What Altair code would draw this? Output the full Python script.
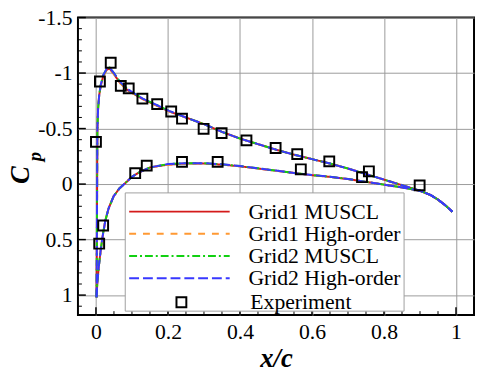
import altair as alt
import pandas as pd

series_names = ["Grid1 MUSCL", "Grid1 High-order", "Grid2 MUSCL", "Grid2 High-order"]
series_colors = ["#d41a1a", "#ff9933", "#11d011", "#3838ff"]
series_dashes = [[1, 0], [7, 7], [8, 3, 2, 3], [10, 4]]

x_upper = [0.0015, 0.0025, 0.003, 0.0035, 0.004, 0.006, 0.009, 0.013, 0.02, 0.03, 0.038,
           0.05, 0.067, 0.09, 0.13, 0.17, 0.203, 0.25, 0.3, 0.35, 0.4, 0.45, 0.5, 0.55,
           0.6, 0.65, 0.7, 0.75, 0.8, 0.85, 0.9, 0.93, 0.95, 0.97, 0.99]
cp_upper_grid1 = [1.02, 0.6, 0.2, -0.2, -0.5, -0.68, -0.8, -0.88, -0.97, -1.03, -1.04,
                  -0.99, -0.91, -0.84, -0.765, -0.705, -0.655, -0.6, -0.54, -0.47, -0.41, -0.36,
                  -0.31, -0.265, -0.225, -0.185, -0.14, -0.09, -0.04, 0.01, 0.06, 0.1, 0.14, 0.19, 0.25]
cp_upper_grid2 = [1.02, 0.6, 0.2, -0.2, -0.5, -0.68, -0.8, -0.89, -0.98, -1.04, -1.05,
                  -1.0, -0.92, -0.85, -0.77, -0.71, -0.66, -0.6, -0.54, -0.47, -0.41, -0.36,
                  -0.31, -0.265, -0.225, -0.185, -0.14, -0.09, -0.04, 0.01, 0.06, 0.1, 0.14, 0.19, 0.25]

x_lower = [0.0015, 0.004, 0.008, 0.013, 0.02, 0.026, 0.035, 0.049, 0.065, 0.085, 0.1, 0.117,
           0.15, 0.2, 0.25, 0.3, 0.35, 0.4, 0.45, 0.5, 0.55, 0.6, 0.65, 0.7, 0.75, 0.8,
           0.85, 0.9, 0.93, 0.95, 0.97, 0.99]
cp_lower_grid1 = [1.02, 0.88, 0.74, 0.6, 0.44, 0.33, 0.22, 0.11, 0.04, -0.02, -0.065, -0.1,
                  -0.15, -0.175, -0.185, -0.185, -0.175, -0.16, -0.14, -0.12, -0.1, -0.08,
                  -0.065, -0.045, -0.02, 0.005, 0.03, 0.06, 0.1, 0.14, 0.19, 0.25]
cp_lower_grid2 = [1.02, 0.88, 0.74, 0.6, 0.44, 0.33, 0.22, 0.11, 0.04, -0.02, -0.065, -0.1,
                  -0.15, -0.18, -0.188, -0.188, -0.178, -0.162, -0.142, -0.122, -0.1, -0.082,
                  -0.066, -0.046, -0.02, 0.005, 0.03, 0.06, 0.1, 0.14, 0.19, 0.25]

exp_x = [0.0, 0.011, 0.041, 0.069, 0.091, 0.129, 0.170, 0.209, 0.239, 0.299, 0.349, 0.418,
         0.499, 0.559, 0.648, 0.758, 0.899, 0.109, 0.141, 0.239, 0.338, 0.569, 0.739, 0.020, 0.009]
exp_cp = [-0.38, -0.924, -1.093, -0.885, -0.862, -0.77, -0.72, -0.654, -0.589, -0.498, -0.459,
          -0.394, -0.325, -0.27, -0.204, -0.115, 0.012, -0.098, -0.166, -0.2, -0.2, -0.133,
          -0.062, 0.373, 0.537]

x_major = [0, 0.2, 0.4, 0.6, 0.8, 1.0]
x_minor = [0.05, 0.1, 0.15, 0.25, 0.3, 0.35, 0.45, 0.5, 0.55, 0.65, 0.7, 0.75, 0.85, 0.9, 0.95]
y_major = [-1.5, -1, -0.5, 0, 0.5, 1]
y_minor = [-1.4, -1.3, -1.2, -1.1, -0.9, -0.8, -0.7, -0.6, -0.4, -0.3, -0.2, -0.1,
           0.1, 0.2, 0.3, 0.4, 0.6, 0.7, 0.8, 0.9, 1.1]

W, H = 402, 302
FONT = "Liberation Serif"

rows = []
grid_upper = {"Grid1": cp_upper_grid1, "Grid2": cp_upper_grid2}
grid_lower = {"Grid1": cp_lower_grid1, "Grid2": cp_lower_grid2}
for s in series_names:
    g = s.split()[0]
    for i, (xv, cv) in enumerate(zip(x_upper, grid_upper[g])):
        rows.append({"series": s, "surface": "upper", "idx": i, "x": xv, "cp": cv})
    for i, (xv, cv) in enumerate(zip(x_lower, grid_lower[g])):
        rows.append({"series": s, "surface": "lower", "idx": i, "x": xv, "cp": cv})
lines_df = pd.DataFrame(rows)
exp_df = pd.DataFrame({"x": exp_x, "cp": exp_cp, "src": ["Experiment"] * len(exp_x)})

x_scale = alt.Scale(domain=[-0.05, 1.05], nice=False, zero=False)
y_scale = alt.Scale(domain=[-1.5, 1.18], nice=False, zero=False, reverse=True)
x_axis = alt.Axis(values=x_major, title="x/c", labelExpr="toString(datum.value)",
                  grid=True, ticks=False, domain=False, labelPadding=7,
                  labelFont=FONT, labelFontSize=22, labelColor="black",
                  titleFont=FONT, titleFontSize=27, titleFontStyle="italic",
                  titleFontWeight="bold", titlePadding=3, titleColor="black")
y_axis = alt.Axis(values=y_major, title="", labelExpr="toString(datum.value)",
                  grid=True, ticks=False, domain=False, labelPadding=6,
                  labelFont=FONT, labelFontSize=22, labelColor="black")

X = lambda f: alt.X(f, type="quantitative", scale=x_scale, axis=x_axis)
Y = lambda f: alt.Y(f, type="quantitative", scale=y_scale, axis=y_axis)

leg_common = dict(title=None, orient="none", padding=0, labelFont=FONT, labelFontSize=22,
                  labelColor="black", labelLimit=400)
line_leg = dict(legendX=51, legendY=186, symbolType="stroke", symbolSize=10404,
                symbolStrokeWidth=2, labelOffset=18, rowPadding=0.5, clipHeight=22)

lines = alt.Chart(lines_df).mark_line(strokeWidth=2).encode(
    x=X("x"), y=Y("cp"),
    color=alt.Color("series:N", scale=alt.Scale(domain=series_names, range=series_colors),
                    legend=alt.Legend(**line_leg, **leg_common)),
    strokeDash=alt.StrokeDash("series:N", scale=alt.Scale(domain=series_names, range=series_dashes),
                              legend=alt.Legend(**line_leg, **leg_common)),
    detail="surface:N",
    order="idx:Q",
)

points = alt.Chart(exp_df).mark_point(filled=False, color="black", strokeWidth=2, size=100, opacity=1).encode(
    x=X("x"), y=Y("cp"),
    shape=alt.Shape("src:N", scale=alt.Scale(domain=["Experiment"], range=["square"]),
                    legend=alt.Legend(legendX=94, legendY=278, symbolSize=100, symbolStrokeWidth=2,
                                      symbolStrokeColor="black", labelOffset=59, **leg_common)),
)

box = alt.Chart(pd.DataFrame({"k": [0]})).mark_rect(fill="white", stroke="#a0a0a0", strokeWidth=1).encode(
    x=alt.value(48), x2=alt.value(331), y=alt.value(178), y2=alt.value(298))

xmaj = alt.Chart(pd.DataFrame({"v": x_major})).mark_rule(color="black", strokeWidth=1.5).encode(
    x=X("v"), y=alt.value(H), y2=alt.value(H - 8))
xmin = alt.Chart(pd.DataFrame({"v": x_minor})).mark_rule(color="black", strokeWidth=1).encode(
    x=X("v"), y=alt.value(H), y2=alt.value(H - 4))
ymaj = alt.Chart(pd.DataFrame({"v": y_major})).mark_rule(color="black", strokeWidth=1.5).encode(
    y=Y("v"), x=alt.value(0), x2=alt.value(8))
ymin = alt.Chart(pd.DataFrame({"v": y_minor})).mark_rule(color="black", strokeWidth=1).encode(
    y=Y("v"), x=alt.value(0), x2=alt.value(4))

c_text = alt.Chart(pd.DataFrame({"t": ["C"]})).mark_text(
    font=FONT, fontSize=27, fontStyle="italic", fontWeight="bold", angle=270,
    align="center", baseline="middle", color="black").encode(
    text="t:N", x=alt.value(-58), y=alt.value(160))
p_text = alt.Chart(pd.DataFrame({"t": ["p"]})).mark_text(
    font=FONT, fontSize=19, fontStyle="italic", fontWeight="bold", angle=270,
    align="center", baseline="middle", color="black").encode(
    text="t:N", x=alt.value(-43), y=alt.value(141))

chart = alt.layer(xmaj, xmin, ymaj, ymin, lines, box, points, c_text, p_text).properties(
    width=W, height=H,
    autosize=alt.AutoSizeParams(type="none"),
    padding={"left": 71, "top": 7, "right": 1, "bottom": 50},
).configure_view(stroke="black", strokeWidth=2).configure_axis(
    labelFont=FONT, labelFontSize=22, labelColor="black",
    gridColor="#9a9a9a", gridWidth=1, gridOpacity=1,
).configure_legend(symbolFillColor="transparent")

chart.save("out.html", embed_options={"renderer": "svg", "actions": False})
